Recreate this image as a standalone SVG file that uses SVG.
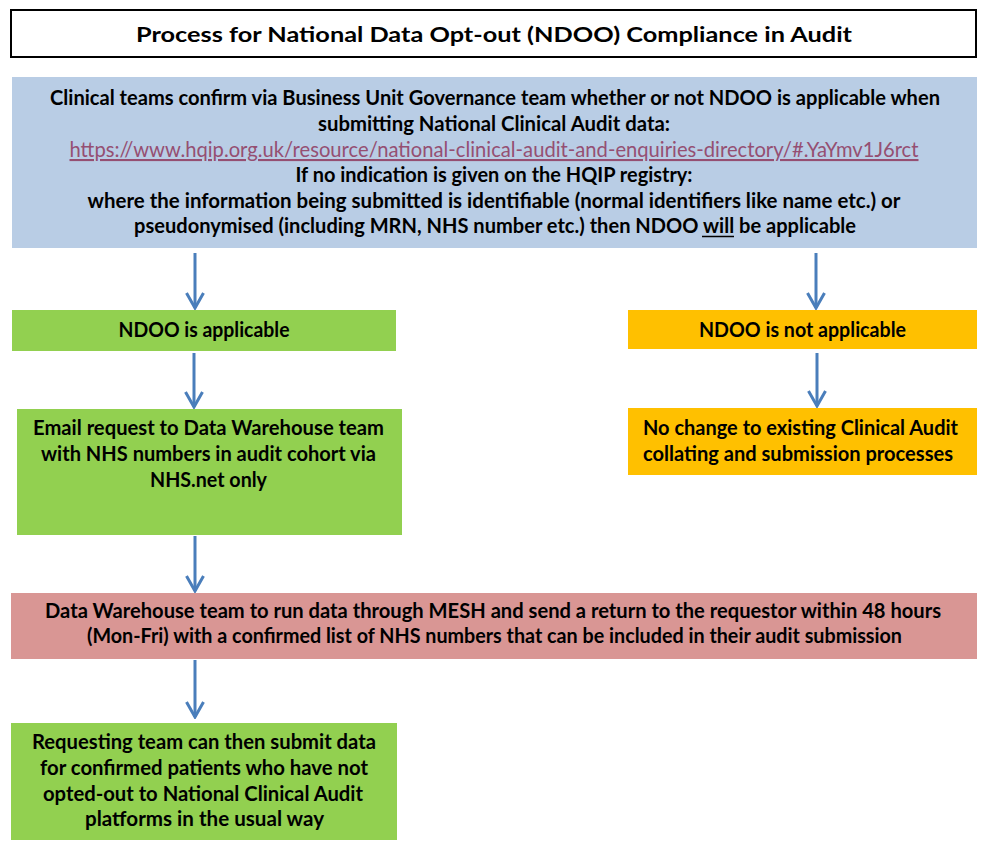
<svg xmlns="http://www.w3.org/2000/svg" width="981" height="841" viewBox="0 0 981 841">
<defs>
<style>
text{font-family:Lato,"Liberation Sans",sans-serif;font-weight:bold;font-size:21px;fill:#000;}
.c{text-anchor:middle;}
.link{fill:#954F72;font-weight:normal;text-decoration:underline;}
.conn{stroke:#4A7EBB;stroke-width:3;fill:none;marker-end:url(#ah);}
</style>
<marker id="ah" markerUnits="userSpaceOnUse" viewBox="-18 -11 20 22" refX="0" refY="0" markerWidth="20" markerHeight="22" orient="auto">
<path d="M-15,-8.5 L0,0 L-15,8.5" fill="none" stroke="#4A7EBB" stroke-width="3" stroke-linejoin="miter"/>
</marker>
</defs>
<rect x="0" y="0" width="981" height="841" fill="#fff"/>
<g id="title">
<rect x="11" y="10" width="965" height="47" fill="#fff" stroke="#000" stroke-width="2"/>
<text class="c" x="494" y="42" font-size="22" textLength="716" lengthAdjust="spacingAndGlyphs">Process for National Data Opt-out (NDOO) Compliance in Audit</text>
</g>
<g id="intro">
<rect x="12" y="77" width="965" height="171" fill="#B9CDE5"/>
<text class="c" x="495" y="105" textLength="890" lengthAdjust="spacingAndGlyphs">Clinical teams confirm via Business Unit Governance team whether or not NDOO is applicable when</text>
<text class="c" x="494" y="131" textLength="352" lengthAdjust="spacingAndGlyphs">submitting National Clinical Audit data:</text>
<text class="c link" x="494" y="157" textLength="849" lengthAdjust="spacingAndGlyphs">https://www.hqip.org.uk/resource/national-clinical-audit-and-enquiries-directory/#.YaYmv1J6rct</text>
<text class="c" x="494" y="182" textLength="397" lengthAdjust="spacingAndGlyphs">If no indication is given on the HQIP registry:</text>
<text class="c" x="494" y="208" textLength="813" lengthAdjust="spacingAndGlyphs">where the information being submitted is identifiable (normal identifiers like name etc.) or</text>
<text class="c" x="495" y="233" textLength="722" lengthAdjust="spacingAndGlyphs">pseudonymised (including MRN, NHS number etc.) then NDOO will be applicable</text>
<line x1="702" y1="236.5" x2="734" y2="236.5" stroke="#000" stroke-width="1.5"/>
</g>
<g id="applicable">
<rect x="12" y="310" width="384" height="41" fill="#92D050"/>
<text class="c" x="204" y="337" textLength="171" lengthAdjust="spacingAndGlyphs">NDOO is applicable</text>
</g>
<g id="not-applicable">
<rect x="628" y="310" width="349" height="39" fill="#FFC000"/>
<text class="c" x="802.5" y="337" textLength="207" lengthAdjust="spacingAndGlyphs">NDOO is not applicable</text>
</g>
<g id="email-request">
<rect x="17" y="409" width="385" height="126" fill="#92D050"/>
<text class="c" x="208.5" y="435" textLength="351" lengthAdjust="spacingAndGlyphs">Email request to Data Warehouse team</text>
<text class="c" x="208.5" y="461" textLength="335" lengthAdjust="spacingAndGlyphs">with NHS numbers in audit cohort via</text>
<text class="c" x="208.5" y="487" textLength="117" lengthAdjust="spacingAndGlyphs">NHS.net only</text>
</g>
<g id="no-change">
<rect x="628" y="408" width="349" height="67" fill="#FFC000"/>
<text x="643" y="435" textLength="315" lengthAdjust="spacingAndGlyphs">No change to existing Clinical Audit</text>
<text x="643" y="461" textLength="310" lengthAdjust="spacingAndGlyphs">collating and submission processes</text>
</g>
<g id="mesh">
<rect x="11" y="593" width="966" height="66" fill="#D99694"/>
<text class="c" x="493" y="618" textLength="896" lengthAdjust="spacingAndGlyphs">Data Warehouse team to run data through MESH and send a return to the requestor within 48 hours</text>
<text class="c" x="494.5" y="643" textLength="815" lengthAdjust="spacingAndGlyphs">(Mon-Fri) with a confirmed list of NHS numbers that can be included in their audit submission</text>
</g>
<g id="submit">
<rect x="11" y="723" width="386" height="117" fill="#92D050"/>
<text class="c" x="204" y="749" textLength="344" lengthAdjust="spacingAndGlyphs">Requesting team can then submit data</text>
<text class="c" x="204" y="775" textLength="328" lengthAdjust="spacingAndGlyphs">for confirmed patients who have not</text>
<text class="c" x="203" y="801" textLength="320" lengthAdjust="spacingAndGlyphs">opted-out to National Clinical Audit</text>
<text class="c" x="204.5" y="826" textLength="239" lengthAdjust="spacingAndGlyphs">platforms in the usual way</text>
</g>
<g id="connectors">
<line class="conn" x1="195" y1="253" x2="195" y2="308"/>
<line class="conn" x1="194" y1="353" x2="194" y2="407"/>
<line class="conn" x1="816" y1="253" x2="816" y2="308"/>
<line class="conn" x1="817" y1="353" x2="817" y2="406"/>
<line class="conn" x1="195" y1="536" x2="195" y2="591"/>
<line class="conn" x1="195" y1="660" x2="195" y2="717"/>
</g>
</svg>
